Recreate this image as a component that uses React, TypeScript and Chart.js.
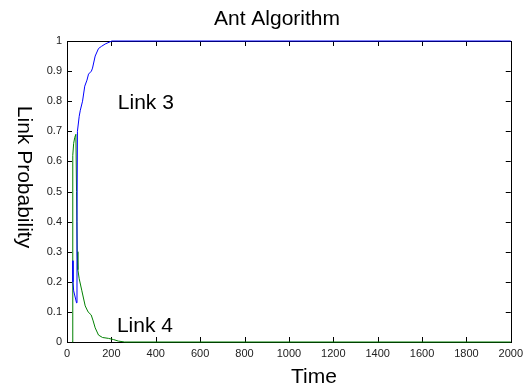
import React, { useEffect, useRef } from "react";
import { Chart, registerables } from "chart.js";

Chart.register(...registerables);

const titleText = "Ant Algorithm";
const xTitle = "Time";
const yTitle = "Link Probability";

const xTicks = [0, 200, 400, 600, 800, 1000, 1200, 1400, 1600, 1800, 2000];
const yTicks = [0, 0.1, 0.2, 0.3, 0.4, 0.5, 0.6, 0.7, 0.8, 0.9, 1];

const link3Time = [26, 27, 30, 43, 45, 47, 55, 60, 70, 80, 90, 97, 110, 115, 127, 142, 155, 172, 202, 230, 2000];
const link3Prob = [0.27, 0.2, 0.17, 0.13, 0.4, 0.7, 0.75, 0.77, 0.8, 0.85, 0.87, 0.89, 0.9, 0.91, 0.95, 0.975, 0.982, 0.99, 1.0, 1.0, 1.0];

const link4Time = [24, 25, 27, 30, 35, 40, 43, 46, 49, 55, 67, 82, 95, 109, 118, 127, 142, 160, 187, 210, 232, 260, 2000];
const link4Prob = [0, 0.45, 0.62, 0.66, 0.68, 0.69, 0.5, 0.3, 0.24, 0.21, 0.17, 0.12, 0.1, 0.09, 0.07, 0.047, 0.023, 0.015, 0.012, 0.008, 0.003, 0, 0];

const labelTexts = ["Link 3", "Link 4"];
const labelTime = [229, 225];
const labelProb = [0.795, 0.053];

const FONT = "Arial, 'Liberation Sans', Helvetica, sans-serif";

const toPoints = (xs: number[], ys: number[]) => xs.map((x, i) => ({ x, y: ys[i] }));

const decorPlugin = {
  id: "decor",
  beforeDatasetsDraw(chart: any) {
    const { ctx, chartArea, scales } = chart;
    const { left, right, top, bottom } = chartArea;
    const xs = scales.x;
    const ys = scales.y;
    ctx.save();
    ctx.strokeStyle = "#000";
    ctx.lineWidth = 1;
    ctx.strokeRect(Math.round(left) + 0.5, Math.round(top) + 0.5, Math.round(right - left), Math.round(bottom - top));
    const tl = 5;
    ctx.beginPath();
    xTicks.forEach((t) => {
      const px = Math.round(xs.getPixelForValue(t)) + 0.5;
      ctx.moveTo(px, bottom);
      ctx.lineTo(px, bottom - tl);
      ctx.moveTo(px, top);
      ctx.lineTo(px, top + tl);
    });
    yTicks.forEach((v) => {
      const py = Math.round(ys.getPixelForValue(v)) + 0.5;
      ctx.moveTo(left, py);
      ctx.lineTo(left + tl, py);
      ctx.moveTo(right, py);
      ctx.lineTo(right - tl, py);
    });
    ctx.stroke();
    ctx.restore();
  },
  afterDraw(chart: any) {
    const { ctx, scales } = chart;
    const xs = scales.x;
    const ys = scales.y;
    ctx.save();
    ctx.fillStyle = "#000";
    ctx.font = `21px ${FONT}`;
    ctx.textAlign = "center";
    ctx.textBaseline = "middle";
    ctx.fillText(titleText, 277, 19);
    ctx.fillText(xTitle, 314, 377);

    ctx.save();
    ctx.translate(24, 177);
    ctx.rotate(Math.PI / 2);
    ctx.fillText(yTitle, 0, 0);
    ctx.restore();

    ctx.textAlign = "left";
    labelTexts.forEach((txt, i) => {
      ctx.fillText(txt, xs.getPixelForValue(labelTime[i]), ys.getPixelForValue(labelProb[i]));
    });
    ctx.restore();
  },
};

export default function App() {
  const ref = useRef<HTMLCanvasElement | null>(null);
  useEffect(() => {
    document.body.style.margin = "0";
    const canvas = ref.current;
    if (!canvas) return;
    const chart = new Chart(canvas, {
      type: "line",
      data: {
        datasets: [
          {
            label: "Link 3",
            data: toPoints(link3Time, link3Prob),
            borderColor: "#0000ff",
            borderWidth: 1,
            pointRadius: 0,
            tension: 0,
            fill: false,
            clip: 3,
          },
          {
            label: "Link 4",
            data: toPoints(link4Time, link4Prob),
            borderColor: "#008000",
            borderWidth: 1,
            pointRadius: 0,
            tension: 0,
            fill: false,
            clip: 3,
          },
        ],
      },
      options: {
        responsive: false,
        animation: false,
        events: [],
        layout: { padding: { left: 0, right: 16, top: 41, bottom: 0 } },
        plugins: { legend: { display: false }, title: { display: false }, tooltip: { enabled: false } },
        scales: {
          x: {
            type: "linear",
            min: 0,
            max: 2000,
            afterFit: (s: any) => {
              s.height = 43;
            },
            afterBuildTicks: (s: any) => {
              s.ticks = xTicks.map((v) => ({ value: v }));
            },
            grid: { display: false, drawTicks: false },
            border: { display: false },
            ticks: {
              font: { family: FONT, size: 11 },
              color: "#222",
              padding: 5,
              maxRotation: 0,
              autoSkip: false,
              callback: (v: any) => String(v),
            },
          },
          y: {
            type: "linear",
            min: 0,
            max: 1,
            afterFit: (s: any) => {
              s.width = 67;
            },
            afterBuildTicks: (s: any) => {
              s.ticks = yTicks.map((v) => ({ value: v }));
            },
            grid: { display: false, drawTicks: false },
            border: { display: false },
            ticks: {
              font: { family: FONT, size: 11 },
              color: "#222",
              padding: 5,
              autoSkip: false,
              callback: (v: any) => String(Math.round(v * 10) / 10),
            },
          },
        },
      },
      plugins: [decorPlugin],
    } as any);
    return () => chart.destroy();
  }, []);
  return (
    <div style={{ position: "absolute", left: 0, top: 0, width: 528, height: 385, background: "#fff" }}>
      <canvas ref={ref} width={528} height={385} style={{ width: 528, height: 385, display: "block" }} />
    </div>
  );
}
